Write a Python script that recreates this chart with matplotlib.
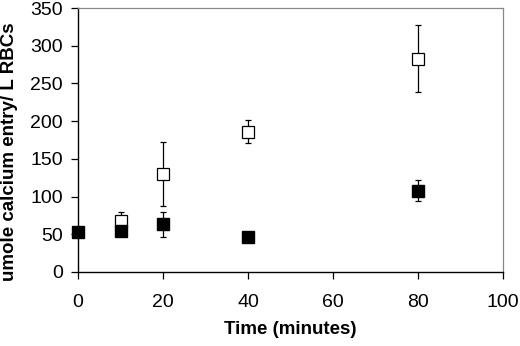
import matplotlib
matplotlib.use("Agg")
import matplotlib.pyplot as plt

plt.rcParams["font.family"] = ["Liberation Sans", "DejaVu Sans"]

# ── Data ──────────────────────────────────
time_open = [10, 20, 40, 80]
val_open = [67, 130, 186, 283]
err_open = [13, 43, 15, 45]

time_filled = [0, 10, 20, 40, 80]
val_filled = [53, 55, 63, 46, 108]
err_filled = [0, 0, 16, 0, 14]

x_ticks = [0, 20, 40, 60, 80, 100]
y_ticks = [0, 50, 100, 150, 200, 250, 300, 350]

fig = plt.figure(figsize=(5.2, 3.46), dpi=100, facecolor="white")
ax = fig.add_axes([78 / 520, 1 - 272 / 346, (503 - 78) / 520, (272 - 8) / 346])

eb1 = ax.errorbar(time_open, val_open, yerr=err_open, fmt="s", ms=8,
                  mfc="white", mec="black", mew=0.9, ecolor="black",
                  elinewidth=0.9, capsize=2.5, capthick=0.9, zorder=3)
eb2 = ax.errorbar(time_filled, val_filled, yerr=err_filled, fmt="s", ms=8,
                  mfc="black", mec="black", ecolor="black",
                  elinewidth=0.9, capsize=2.5, capthick=0.9, zorder=4)
for eb in (eb1, eb2):
    eb[0].set_clip_on(False)

ax.set_xlim(0, 100)
ax.set_ylim(0, 350)
ax.set_xticks(x_ticks)
ax.set_yticks(y_ticks)
ax.tick_params(direction="out", length=5, width=0.9, labelsize=14)
ax.tick_params(axis="x", pad=11)
ax.tick_params(axis="y", pad=6)
for s in ["left", "bottom"]:
    ax.spines[s].set_linewidth(1.0)
for s in ["top", "right"]:
    ax.spines[s].set_color("#888888")
    ax.spines[s].set_linewidth(0.9)

ax.set_xlabel("Time (minutes)", fontsize=13.5, fontweight="bold", labelpad=7)
ax.set_ylabel("umole calcium entry/ L RBCs", fontsize=13.5, fontweight="bold")
ax.yaxis.set_label_coords(-0.142, 0.455)

fig.savefig("out.png", dpi=100, facecolor="white")
